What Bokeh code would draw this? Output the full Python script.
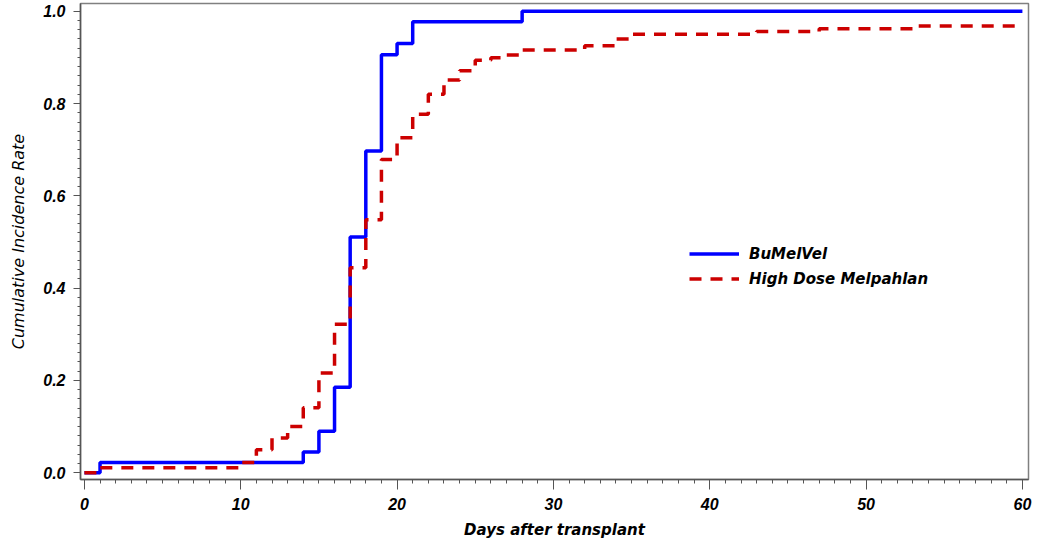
from bokeh.plotting import figure
from bokeh.models import Range1d, FixedTicker, NumeralTickFormatter, Legend, LegendItem
from bokeh.embed import file_html
from bokeh.resources import INLINE

# BuMelVel cumulative incidence (step after each day)
bu_days = [0, 1, 14, 15, 16, 17, 18, 19, 20, 21, 28, 60]
bu_rate = [0.0, 0.022, 0.045, 0.09, 0.185, 0.511, 0.697, 0.906, 0.93, 0.977, 1.0, 1.0]

# High Dose Melphalan cumulative incidence
hd_days = [0, 1, 10, 11, 12, 13, 14, 15, 16, 17, 18, 19, 20, 21, 22, 23, 24, 25, 26, 27, 28,
           32, 34, 35, 43, 47, 53, 60]
hd_rate = [0.0, 0.011, 0.022, 0.05, 0.075, 0.10, 0.141, 0.216, 0.322, 0.444, 0.548, 0.679,
           0.726, 0.777, 0.82, 0.851, 0.871, 0.894, 0.899, 0.905, 0.916,
           0.925, 0.94, 0.95, 0.956, 0.962, 0.968, 0.968]

x_ticks = [0, 10, 20, 30, 40, 50, 60]
y_ticks = [0.0, 0.2, 0.4, 0.6, 0.8, 1.0]
series_names = ["BuMelVel", "High Dose Melpahlan"]

p = figure(width=1034, height=541, output_backend="svg", toolbar_location=None,
           x_range=Range1d(-0.25, 60.39), y_range=Range1d(-0.0147, 1.0168),
           min_border_left=80, min_border_right=6, min_border_top=3, min_border_bottom=60)
p.background_fill_color = "white"
p.border_fill_color = "white"
p.outline_line_color = "#808080"
p.outline_line_width = 1.5
p.grid.visible = False

r1 = p.step(bu_days, bu_rate, mode="after", line_color="#0000FF", line_width=3.5)
r2 = p.step(hd_days, hd_rate, mode="after", line_color="#CC0000", line_width=3.5,
            line_dash="12 9")

font = "Liberation Sans"
lab_font = "DejaVu Sans"
xa = p.xaxis[0]
xa.ticker = FixedTicker(ticks=x_ticks, minor_ticks=list(range(0, 61)))
xa.axis_label = "Days after transplant"
ya = p.yaxis[0]
ya.ticker = FixedTicker(ticks=y_ticks, minor_ticks=[i * 0.02 for i in range(51)])
ya.formatter = NumeralTickFormatter(format="0.0")
ya.axis_label = "Cumulative Incidence Rate"

for ax in (xa, ya):
    ax.axis_line_color = "#555555"
    ax.axis_line_width = 1.5
    ax.major_tick_line_color = "#555555"
    ax.minor_tick_line_color = "#555555"
    ax.major_tick_in = 0
    ax.minor_tick_in = 0
    ax.major_label_text_font = font
    ax.major_label_text_font_style = "bold italic"
    ax.major_label_text_font_size = "16px"
    ax.major_label_text_color = "black"
    ax.axis_label_text_font = lab_font
    ax.axis_label_text_font_size = "15px"
    ax.axis_label_text_color = "black"

xa.major_tick_out = 10
xa.minor_tick_out = 4
xa.major_label_standoff = 8
xa.axis_label_standoff = 8
xa.axis_label_text_font_style = "bold italic"
ya.major_tick_out = 7
ya.minor_tick_out = 3
ya.major_label_standoff = 8
ya.axis_label_standoff = 12
ya.axis_label_text_font_style = "italic"
ya.axis_label_text_font_size = "16px"

legend = Legend(items=[LegendItem(label=series_names[0], renderers=[r1]),
                       LegendItem(label=series_names[1], renderers=[r2])],
                location=(609, 188), border_line_color=None, background_fill_alpha=0,
                padding=0, margin=0, spacing=0, glyph_width=50, glyph_height=25,
                label_height=25, label_standoff=10,
                label_text_font=lab_font, label_text_font_style="bold italic",
                label_text_font_size="15px", label_text_color="black")
p.add_layout(legend)

open("out.html", "w").write(file_html(p, INLINE))
